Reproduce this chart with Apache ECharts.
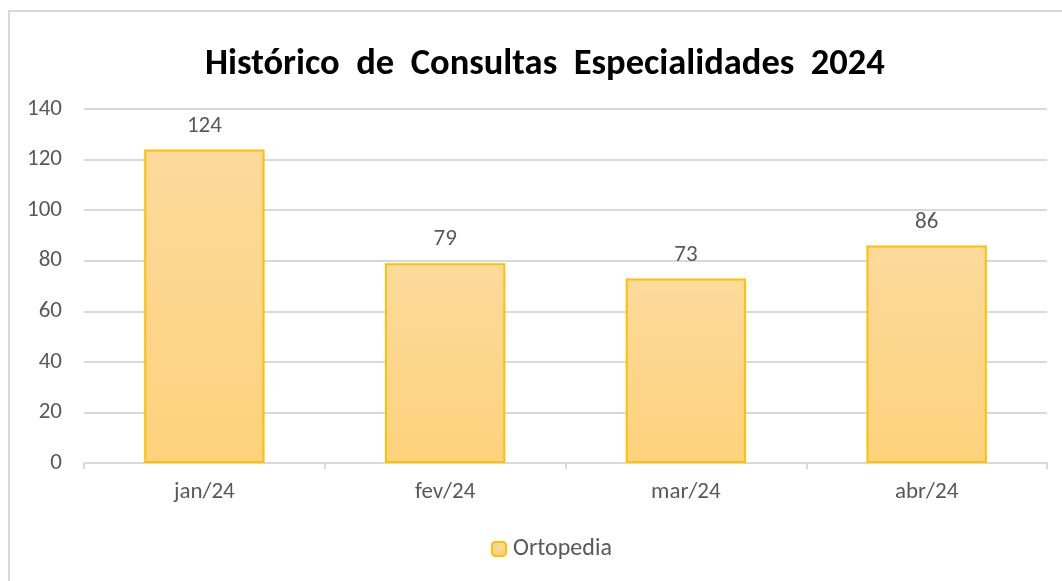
<!DOCTYPE html>
<html>
<head>
<meta charset="utf-8">
<script src="https://cdn.jsdelivr.net/npm/echarts@6/dist/echarts.min.js"></script>
<style>
  html, body { margin: 0; padding: 0; background: #fff; overflow: hidden; }
  .frame {
    position: absolute; left: 8px; top: 10px;
    width: 1100px; height: 620px;
    border: 2px solid #d9d9d9;
  }
  #main { position: absolute; left: 0; top: 0; width: 1062px; height: 581px; }
</style>
</head>
<body>
<div class="frame"></div>
<div id="main"></div>
<script>
// dados do gráfico
const meses = ['jan/24', 'fev/24', 'mar/24', 'abr/24'];
const ortopedia = [124, 79, 73, 86];
const titulo = 'Histórico  de  Consultas  Especialidades  2024';

const chart = echarts.init(document.getElementById('main'));
const fonte = 'Calibri, Carlito, "Open Sans", "Noto Sans", sans-serif';

chart.setOption({
  animation: false,
  textStyle: { fontFamily: fonte },
  title: {
    text: titulo,
    left: 200,
    top: 41,
    textStyle: { fontSize: 36.5, fontWeight: 'bold', color: '#000', fontFamily: fonte }
  },
  legend: {
    bottom: 15,
    left: 486,
    itemWidth: 14,
    itemHeight: 14,
    itemGap: 6,
    textStyle: { fontSize: 24, color: '#595959', padding: [0, 0, 0, 2] },
    data: ['Ortopedia']
  },
  grid: { left: 84, right: 15, top: 109, bottom: 118 },
  xAxis: {
    type: 'category',
    data: meses,
    axisLine: { lineStyle: { color: '#d9d9d9', width: 2 } },
    axisTick: { show: true, length: 6, lineStyle: { color: '#d9d9d9', width: 2 } },
    axisLabel: { fontSize: 23, color: '#595959', margin: 18 }
  },
  yAxis: {
    type: 'value',
    min: 0, max: 140, interval: 20,
    axisLine: { show: false },
    axisTick: { show: false },
    splitLine: { lineStyle: { color: '#d9d9d9', width: 2 } },
    axisLabel: { fontSize: 23, color: '#595959', margin: 22 }
  },
  series: [{
    name: 'Ortopedia',
    type: 'bar',
    data: ortopedia,
    barWidth: '50%',
    itemStyle: {
      color: new echarts.graphic.LinearGradient(0, 0, 0, 1, [
        { offset: 0, color: '#FDDA9C' },
        { offset: 1, color: '#FDD27C' }
      ]),
      borderColor: '#FFC000',
      borderWidth: 2
    },
    label: {
      show: true,
      position: 'top',
      distance: 12,
      fontSize: 23,
      color: '#595959'
    }
  }]
});
</script>
</body>
</html>
